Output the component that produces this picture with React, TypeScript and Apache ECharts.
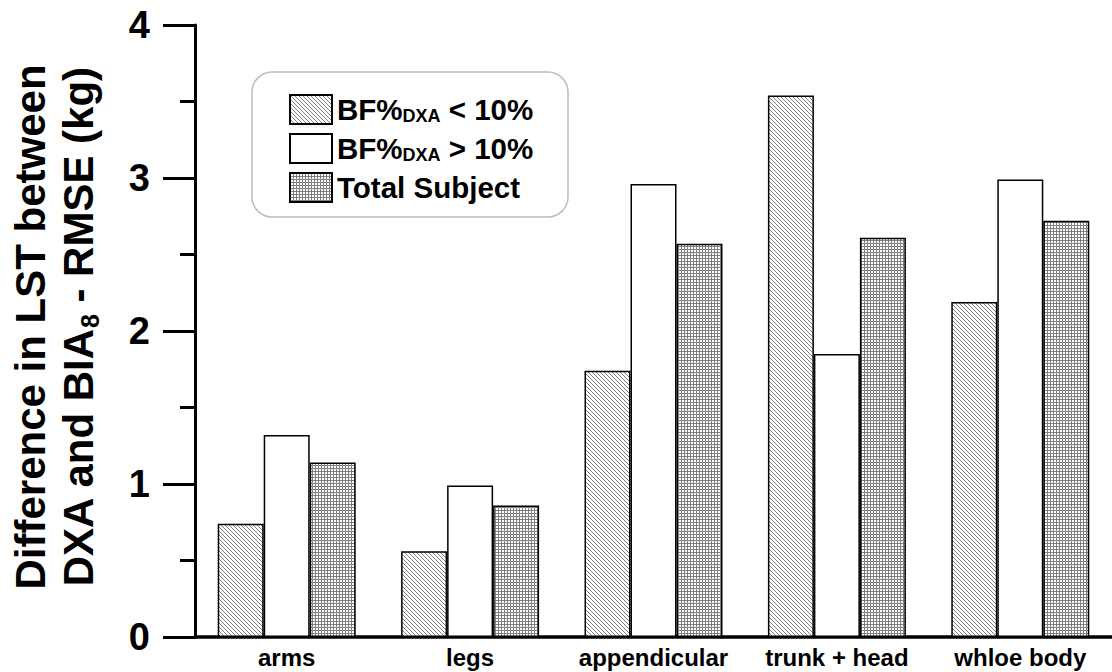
import React, { useEffect, useRef } from 'react';
import * as echarts from 'echarts';

const categories = ['arms', 'legs', 'appendicular', 'trunk + head', 'whloe body'];
const seriesNames = ['BF%DXA < 10%', 'BF%DXA > 10%', 'Total Subject'];
const lowBF = [0.74, 0.56, 1.74, 3.54, 2.19];
const highBF = [1.32, 0.99, 2.96, 1.85, 2.99];
const totalSubject = [1.14, 0.86, 2.57, 2.61, 2.72];
const legendLabels: Record<string, string> = {
  'BF%DXA < 10%': '{a|BF%}{s|DXA}{a| < 10%}',
  'BF%DXA > 10%': '{a|BF%}{s|DXA}{a| > 10%}',
  'Total Subject': '{a|Total Subject}',
};
const yTitle = 'Difference in LST between\nDXA and BIA{s|8} - RMSE (kg)';

const FONT = '"Liberation Sans", Arial, Helvetica, sans-serif';

function makeHatch() {
  const c = document.createElement('canvas');
  c.width = 4;
  c.height = 4;
  const ctx = c.getContext('2d')!;
  ctx.fillStyle = '#ffffff';
  ctx.fillRect(0, 0, 4, 4);
  ctx.strokeStyle = '#808080';
  ctx.lineWidth = 1;
  ctx.beginPath();
  ctx.moveTo(-1, -1);
  ctx.lineTo(5, 5);
  ctx.moveTo(-1, 3);
  ctx.lineTo(1, 5);
  ctx.moveTo(3, -1);
  ctx.lineTo(5, 1);
  ctx.stroke();
  return c;
}

function makeGrid() {
  const c = document.createElement('canvas');
  c.width = 3;
  c.height = 3;
  const ctx = c.getContext('2d')!;
  ctx.fillStyle = '#ffffff';
  ctx.fillRect(0, 0, 3, 3);
  ctx.fillStyle = '#808080';
  ctx.fillRect(0, 0, 3, 1);
  ctx.fillRect(0, 0, 1, 3);
  return c;
}

export default function App() {
  const ref = useRef<HTMLDivElement>(null);
  useEffect(() => {
    if (!ref.current) return;
    const chart = echarts.init(ref.current, null, { renderer: 'svg' });
    const hatch = { image: makeHatch(), repeat: 'repeat', imageWidth: 4, imageHeight: 4 };
    const grid = { image: makeGrid(), repeat: 'repeat', imageWidth: 3, imageHeight: 3 };
    const colors: any[] = [hatch, '#ffffff', grid];
    const values = [lowBF, highBF, totalSubject];
    const option: any = {
      animation: false,
      backgroundColor: '#ffffff',
      grid: { left: 195, right: 0, top: 25, bottom: 35, containLabel: false },
      graphic: [
        {
          type: 'rect',
          z: 1,
          shape: { x: 252, y: 72, width: 316, height: 145, r: 20 },
          style: { fill: '#ffffff', stroke: '#bdbdbd', lineWidth: 1.5 },
        },
        {
          type: 'text',
          z: 5,
          x: 54,
          y: 327,
          rotation: Math.PI / 2,
          style: {
            text: yTitle,
            fontFamily: FONT,
            fontSize: 42,
            fontWeight: 'bold',
            fill: '#000',
            lineHeight: 48,
            align: 'center',
            verticalAlign: 'middle',
            rich: {
              s: { fontFamily: FONT, fontSize: 25, fontWeight: 'bold', fill: '#000', verticalAlign: 'bottom', lineHeight: 24 },
            },
          },
        },
      ],
      legend: {
        orient: 'vertical',
        left: 289,
        top: 94,
        padding: 0,
        itemWidth: 42,
        itemHeight: 29,
        itemGap: 8,
        icon: 'rect',
        z: 10,
        data: seriesNames,
        formatter: (name: string) => legendLabels[name],
        textStyle: {
          color: '#000',
          fontFamily: FONT,
          fontSize: 29.5,
          fontWeight: 'bold',
          rich: {
            a: { fontFamily: FONT, fontSize: 29.5, fontWeight: 'bold', color: '#000', lineHeight: 30 },
            s: { fontFamily: FONT, fontSize: 18, fontWeight: 'bold', color: '#000', verticalAlign: 'bottom', lineHeight: 14 },
          },
        },
      },
      xAxis: {
        type: 'category',
        data: categories,
        axisLine: { show: true, lineStyle: { color: '#000', width: 3.5 } },
        axisTick: { show: false },
        axisLabel: { interval: 0, color: '#000', fontFamily: FONT, fontSize: 24, fontWeight: 'bold', margin: 8 },
      },
      yAxis: {
        type: 'value',
        min: 0,
        max: 4,
        interval: 1,
        axisLine: { show: true, lineStyle: { color: '#000', width: 3 } },
        axisTick: { show: true, length: 32, lineStyle: { color: '#000', width: 3 } },
        minorTick: { show: true, splitNumber: 2, length: 15, lineStyle: { color: '#000', width: 3 } },
        splitLine: { show: false },
        axisLabel: { color: '#000', fontFamily: FONT, fontSize: 38, fontWeight: 'bold', margin: 45 },
      },
      series: seriesNames.map((name, i) => ({
        name,
        type: 'bar',
        data: values[i],
        barWidth: 46,
        barGap: '0%',
        itemStyle: { color: colors[i], borderColor: '#000', borderWidth: 1.5 },
      })),
    };
    chart.setOption(option);
    return () => chart.dispose();
  }, []);
  return <div ref={ref} style={{ position: 'fixed', left: 0, top: 0, width: 1112, height: 672 }} />;
}
